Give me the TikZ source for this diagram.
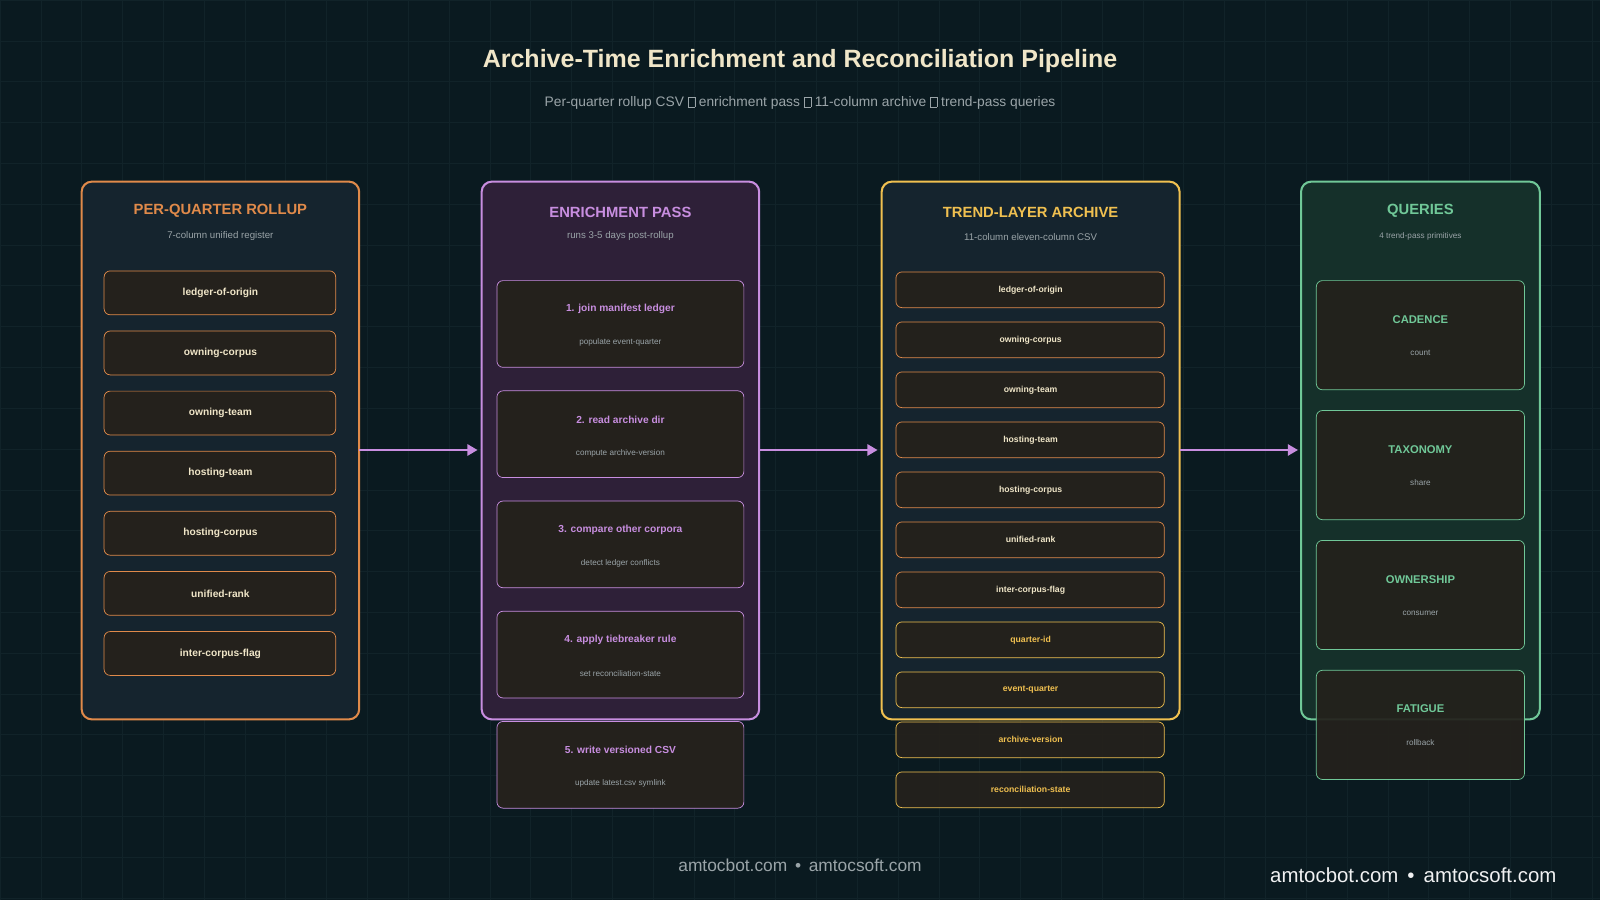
\documentclass[tikz,border=0pt]{standalone}
\usepackage{fontspec}
\setmainfont{Liberation Sans}
\usetikzlibrary{arrows.meta}
\definecolor{bg}{HTML}{0A1A20}
\definecolor{gridc}{HTML}{112329}
\definecolor{cream}{HTML}{F0E6C8}
\definecolor{subg}{HTML}{9AA4A8}
\definecolor{orng}{HTML}{E08A4A}
\definecolor{purp}{HTML}{C88EE0}
\definecolor{yell}{HTML}{F0C050}
\definecolor{grn}{HTML}{70C898}
\definecolor{pfill}{HTML}{15242E}
\definecolor{ppfill}{HTML}{2E2038}
\definecolor{gfill}{HTML}{15302A}
\definecolor{ifill}{HTML}{24211C}
\newcommand{\tofu}{{\fboxsep=0pt\fboxrule=0.5pt\fbox{\rule{0pt}{0.7em}\hspace{0.45em}}}}
\tikzset{
 panel/.style={rounded corners=10pt, line width=2pt},
 ptitle/.style={font=\bfseries\fontsize{14.5}{16}\selectfont},
 psub/.style={text=subg, font=\fontsize{9.5}{11}\selectfont},
 item/.style={rounded corners=6pt, fill=ifill, line width=0.7pt},
 itxt/.style={font=\bfseries\fontsize{10}{12}\selectfont},
 flow/.style={draw=purp, line width=2.2pt, -{Triangle[length=10pt,width=11pt]}}
}
\begin{document}
\begin{tikzpicture}[x=1pt,y=-1pt]
\useasboundingbox (0,0) rectangle (1568,882);
\fill[bg] (0,0) rectangle (1568,882);
\foreach \x in {0,40,...,1560} \draw[gridc,line width=0.5pt] (\x,0) -- (\x,882);
\foreach \y in {0,40,...,880} \draw[gridc,line width=0.5pt] (0,\y) -- (1568,\y);

\node[text=cream, font=\bfseries\fontsize{24.5}{28}\selectfont] (title) at (784,60) {Archive-Time Enrichment and Reconciliation Pipeline};
\node[text=subg, font=\fontsize{13.5}{16}\selectfont] (subtitle) at (784,101) {Per-quarter rollup CSV \tofu{} enrichment pass \tofu{} 11-column archive \tofu{} trend-pass queries};

% Panel 1
\draw[panel, draw=orng, fill=pfill] (80,178) rectangle (352,705);
\node[ptitle, text=orng] (t1) at (216,207) {PER-QUARTER ROLLUP};
\node[psub] (s1) at (216,231) {7-column unified register};
\foreach \lab [count=\i] in {ledger-of-origin,owning-corpus,owning-team,hosting-team,hosting-corpus,unified-rank,inter-corpus-flag}{
  \pgfmathsetmacro{\yc}{287+58.9*(\i-1)}
  \draw[item, draw=orng] (102,\yc-21.5) rectangle (329,\yc+21.5);
  \node[itxt, text=cream] (a\i) at (216,\yc) {\lab};
}

% Panel 2
\draw[panel, draw=purp, fill=ppfill] (472,178) rectangle (744,705);
\node[ptitle, text=purp] (t2) at (608,208) {ENRICHMENT PASS};
\node[psub] (s2) at (608,231) {runs 3-5 days post-rollup};
\foreach \lab/\sub [count=\i] in {1. join manifest ledger/populate event-quarter,2. read archive dir/compute archive-version,3. compare other corpora/detect ledger conflicts,4. apply tiebreaker rule/set reconciliation-state,5. write versioned CSV/update latest.csv symlink}{
  \pgfmathsetmacro{\yt}{275+108*(\i-1)}
  \draw[item, draw=purp] (487,\yt) rectangle (729,\yt+85);
  \node[itxt, text=purp] (b\i) at (608,\yt+28) {\lab};
  \node[text=subg, font=\fontsize{8}{10}\selectfont] (bs\i) at (608,\yt+61) {\sub};
}

% Panel 3
\draw[panel, draw=yell, fill=pfill] (864,178) rectangle (1156,705);
\node[ptitle, text=yell] (t3) at (1010,208) {TREND-LAYER ARCHIVE};
\node[psub] (s3) at (1010,232) {11-column eleven-column CSV};
\foreach \lab/\bc/\tc [count=\i] in {ledger-of-origin/orng/cream,owning-corpus/orng/cream,owning-team/orng/cream,hosting-team/orng/cream,hosting-corpus/orng/cream,unified-rank/orng/cream,inter-corpus-flag/orng/cream,quarter-id/yell/yell,event-quarter/yell/yell,archive-version/yell/yell,reconciliation-state/yell/yell}{
  \pgfmathsetmacro{\yc}{284+49*(\i-1)}
  \draw[item, draw=\bc, fill opacity=0.95] (878,\yc-17.5) rectangle (1141,\yc+17.5);
  \node[text=\tc, font=\bfseries\fontsize{8.5}{10}\selectfont] (c\i) at (1010,\yc) {\lab};
}

% Panel 4
\draw[panel, draw=grn, fill=gfill] (1275,178) rectangle (1509,705);
\node[ptitle, text=grn] (t4) at (1392,207) {QUERIES};
\node[text=subg, font=\fontsize{8}{10}\selectfont] (s4) at (1392,232) {4 trend-pass primitives};
\foreach \lab/\sub [count=\i] in {CADENCE/count,TAXONOMY/share,OWNERSHIP/consumer,FATIGUE/rollback}{
  \pgfmathsetmacro{\yt}{275+127.3*(\i-1)}
  \draw[item, draw=grn, fill opacity=0.93] (1290,\yt) rectangle (1494,\yt+107);
  \node[itxt, text=grn, font=\bfseries\fontsize{11}{13}\selectfont] (d\i) at (1392,\yt+38) {\lab};
  \node[text=subg, font=\fontsize{8}{10}\selectfont] (ds\i) at (1392,\yt+71) {\sub};
}

% arrows
\coordinate (e1) at (352,441); \coordinate (f1) at (468,441);
\coordinate (e2) at (744,441); \coordinate (f2) at (860,441);
\coordinate (e3) at (1156,441); \coordinate (f3) at (1272,441);
\draw[flow] (e1) -- (f1);
\draw[flow] (e2) -- (f2);
\draw[flow] (e3) -- (f3);

\node[text=subg, font=\fontsize{17}{20}\selectfont] (foot1) at (784,848) {amtocbot.com \,•\, amtocsoft.com};
\node[text=white!85!subg, font=\fontsize{20}{24}\selectfont] (foot2) at (1385,858) {amtocbot.com \,•\, amtocsoft.com};
\end{tikzpicture}
\end{document}
